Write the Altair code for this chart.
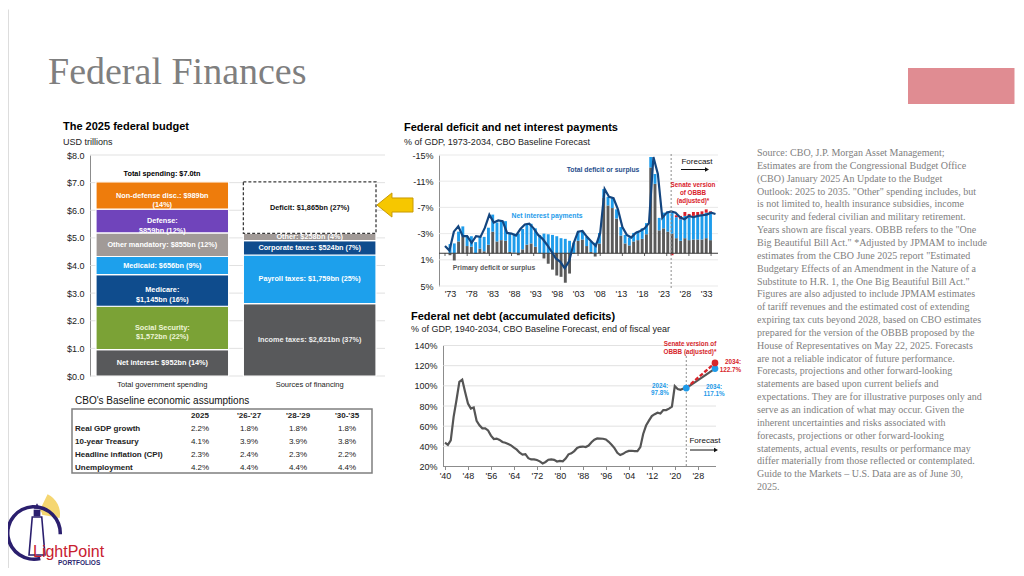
import altair as alt
import pandas as pd

W, H = 1008, 560
def X(v): return v - 8
def Y(v): return v - 8

SANS = "Liberation Sans"
SERIF = "Liberation Serif"

# ---------------- data ----------------
bars = ["Total government spending", "Sources of financing"]

spend_cats = ["Net interest", "Social Security", "Medicare", "Medicaid",
              "Other mandatory", "Defense", "Non-defense disc."]
spend_vals = [0.952, 1.572, 1.145, 0.656, 0.855, 0.859, 0.989]
spend_labels = ["Net interest: $952bn (14%)", "Social Security:\n$1,572bn (22%)",
                "Medicare:\n$1,145bn (16%)", "Medicaid: $656bn (9%)",
                "Other mandatory: $855bn (12%)", "Defense:\n$859bn (12%)",
                "Non-defense disc.: $989bn\n(14%)"]
spend_colors = ["#58595B", "#7BA236", "#0F4C8D", "#1DA0EC", "#A19A97", "#7044BB", "#EE7C0C"]
spend_text = ["#FFFFFF", "#EEF5D8", "#FFFFFF", "#FFFFFF", "#FFFFFF", "#FFFFFF", "#FFFFFF"]

fin_cats = ["Income taxes", "Payroll taxes", "Corporate taxes", "Other", "Deficit"]
fin_vals = [2.621, 1.759, 0.524, 0.258, 1.865]
fin_labels = ["Income taxes: $2,621bn (37%)", "Payroll taxes: $1,759bn (25%)",
              "Corporate taxes: $524bn (7%)", "Other: $258bn (4%)", "Deficit: $1,865bn (27%)"]
fin_colors = ["#58595B", "#1DA0EC", "#0F4C8D", "#A19A97", "#FFFFFF"]
fin_text = ["#EDEDED", "#FFFFFF", "#FFFFFF", "#FFFFFF", "#111111"]

def_years = list(range(1973, 2035))
def_total = [-1.1, -0.4, -3.3, -4.1, -2.6, -2.6, -1.6, -2.6, -2.5, -3.9,
             -5.9, -4.7, -5.0, -4.9, -3.1, -3.0, -2.7, -3.7, -4.4, -4.5,
             -3.8, -2.8, -2.2, -1.3, -0.3, 0.8, 1.3, 2.3, 1.2, -1.5,
             -3.3, -3.4, -2.5, -1.8, -1.1, -3.1, -9.8, -8.6, -8.4, -6.7,
             -4.0, -2.8, -2.4, -3.1, -3.4, -3.8, -4.6, -14.7, -12.1, -5.4,
             -6.2, -6.4, -6.2, -5.5, -5.2, -5.7, -5.5, -5.7, -5.8, -5.9,
             -6.2, -6.0]
def_interest = [-1.4, -1.5, -1.5, -1.5, -1.5, -1.6, -1.7, -1.9, -2.2, -2.6,
                -2.6, -2.9, -3.0, -3.0, -2.9, -2.9, -3.0, -3.1, -3.1, -3.0,
                -2.8, -2.8, -3.0, -2.9, -2.8, -2.6, -2.3, -2.2, -1.9, -1.6,
                -1.4, -1.3, -1.4, -1.6, -1.6, -1.6, -1.3, -1.3, -1.5, -1.4,
                -1.3, -1.3, -1.2, -1.3, -1.4, -1.6, -1.7, -1.6, -1.5, -1.9,
                -2.4, -3.1, -3.2, -3.2, -3.3, -3.4, -3.5, -3.6, -3.7, -3.8,
                -3.9, -4.0]
def_primary = [0.3, 1.1, -1.8, -2.6, -1.1, -1.0, 0.1, -0.7, -0.3, -1.3,
               -3.3, -1.8, -2.0, -1.9, -0.2, -0.1, 0.3, -0.6, -1.3, -1.5,
               -1.0, 0.0, 0.8, 1.6, 2.5, 3.4, 3.6, 4.5, 3.1, 0.1,
               -1.9, -2.1, -1.1, -0.2, 0.5, -1.5, -8.5, -7.3, -6.9, -5.3,
               -2.7, -1.5, -1.2, -1.8, -2.0, -2.2, -2.9, -13.1, -10.6, -3.5,
               -3.8, -3.3, -3.0, -2.3, -1.9, -2.3, -2.0, -2.1, -2.1, -2.1,
               -2.3, -2.0]
senate_years = list(range(2025, 2035))
senate_adj = [0.3, -0.3, -0.5, -0.6, -0.5, -0.6, -0.5, -0.5, -0.5, -0.4]

debt_years = list(range(1940, 2025))
debt_vals = [43.6, 41.5, 45.9, 69.2, 86.0, 103.9, 106.1, 93.9, 82.4, 77.4,
             78.5, 65.4, 60.9, 57.9, 57.9, 55.7, 50.6, 47.2, 47.7, 46.4,
             44.3, 43.5, 42.3, 41.0, 38.7, 36.7, 33.7, 31.8, 32.2, 28.3,
             27.0, 27.1, 26.4, 25.1, 23.1, 24.5, 26.7, 27.1, 26.6, 24.9,
             25.5, 25.2, 27.9, 32.1, 33.1, 35.3, 38.4, 39.5, 39.8, 39.3,
             40.8, 44.0, 46.6, 47.8, 47.7, 47.5, 46.8, 44.5, 41.6, 38.2,
             33.6, 31.4, 32.5, 34.5, 35.5, 35.6, 35.3, 35.2, 39.2, 52.3,
             60.6, 65.5, 70.0, 71.9, 73.4, 72.5, 76.0, 76.0, 77.4, 79.4,
             99.8, 96.9, 96.0, 97.3, 97.8]
fc_years = [2024, 2034]
fc_base = [97.8, 117.1]
fc_senate = [97.8, 122.7]

tbl_rows = ["Real GDP growth", "10-year Treasury", "Headline inflation (CPI)", "Unemployment"]
tbl_cols = ["2025", "'26-'27", "'28-'29", "'30-'35"]
tbl_vals = [[2.2, 1.8, 1.8, 1.8],
            [4.1, 3.9, 3.9, 3.8],
            [2.3, 2.4, 2.3, 2.2],
            [4.2, 4.4, 4.4, 4.4]]

note_lines = [
    "Source: CBO, J.P. Morgan Asset Management;",
    "Estimates are from the Congressional Budget Office",
    "(CBO) January 2025 An Update to the Budget",
    "Outlook: 2025 to 2035. \"Other\" spending includes, but",
    "is not limited to, health insurance subsidies, income",
    "security and federal civilian and military retirement.",
    "Years shown are fiscal years. OBBB refers to the \"One",
    "Big Beautiful Bill Act.\" *Adjusted by JPMAM to include",
    "estimates from the CBO June 2025 report \"Estimated",
    "Budgetary Effects of an Amendment in the Nature of a",
    "Substitute to H.R. 1, the One Big Beautiful Bill Act.\"",
    "Figures are also adjusted to include JPMAM estimates",
    "of tariff revenues and the estimated cost of extending",
    "expiring tax cuts beyond 2028, based on CBO estimates",
    "prepared for the version of the OBBB proposed by the",
    "House of Representatives on May 22, 2025. Forecasts",
    "are not a reliable indicator of future performance.",
    "Forecasts, projections and other forward-looking",
    "statements are based upon current beliefs and",
    "expectations. They are for illustrative purposes only and",
    "serve as an indication of what may occur. Given the",
    "inherent uncertainties and risks associated with",
    "forecasts, projections or other forward-looking",
    "statements, actual events, results or performance may",
    "differ materially from those reflected or contemplated.",
    "Guide to the Markets \u2013 U.S. Data are as of June 30,",
    "2025.",
]

# ---------------- helpers ----------------
ONE = pd.DataFrame({"t": [""]})
layers = []

def txt(s, x, y, size=8, color="#000000", weight="normal", align="left",
        font=SANS, baseline="middle", lh=None):
    kw = dict(font=font, fontSize=size, color=color, fontWeight=weight,
              align=align, baseline=baseline)
    if "\n" in s:
        kw["lineBreak"] = "\n"
        kw["lineHeight"] = lh if lh else size * 1.2
    return alt.Chart(pd.DataFrame({"t": [s]})).mark_text(**kw).encode(
        text="t:N", x=alt.value(x), y=alt.value(y))

def hrule(x1, x2, y, color="#000", w=1, dash=None):
    kw = dict(color=color, strokeWidth=w)
    if dash:
        kw["strokeDash"] = dash
    return alt.Chart(ONE).mark_rule(**kw).encode(
        x=alt.value(x1), x2=alt.value(x2), y=alt.value(y))

# ---------------- page title ----------------
layers.append(txt("Federal Finances", X(48), Y(84), size=38, color="#7F7F7F",
                  font=SERIF, baseline="alphabetic"))
layers.append(alt.Chart(ONE).mark_rect(color="#E08C92").encode(
    x=alt.value(X(908)), x2=alt.value(W), y=alt.value(Y(68)), y2=alt.value(Y(104))))

# ---------------- budget panel ----------------
bud = pd.DataFrame({
    "bar": [bars[0]] * len(spend_cats) + [bars[1]] * len(fin_cats),
    "cat": spend_cats + fin_cats,
    "value": spend_vals + fin_vals,
    "order": list(range(len(spend_cats))) + list(range(len(fin_cats))),
    "label": spend_labels + fin_labels,
    "fill": spend_colors + fin_colors,
    "tcolor": spend_text + fin_text,
    "kind": ["solid"] * (len(spend_cats) + len(fin_cats) - 1) + ["deficit"],
})
bx = alt.Scale(type="band", domain=bars, range=[X(96), X(376)], paddingInner=0.1, paddingOuter=0)
by = alt.Scale(domain=[0, 8], range=[Y(376), Y(155)], nice=False, zero=False)

layers.append(alt.Chart(pd.DataFrame({"v": list(range(0, 9))})).mark_rule(
    color="#D9D9D9", strokeWidth=0.8).encode(
    y=alt.Y("v:Q", scale=by, axis=None), x=alt.value(X(90)), x2=alt.value(X(385))))

bbase = alt.Chart(bud).transform_stack(
    stack="value", groupby=["bar"], sort=[{"field": "order", "order": "ascending"}],
    as_=["y0", "y1"]).transform_calculate(mid="(datum.y0 + datum.y1) / 2")

layers.append(bbase.transform_filter("datum.kind == 'solid'").mark_bar(
    stroke="white", strokeWidth=1.2).encode(
    x=alt.X("bar:N", scale=bx, sort=bars,
            axis=alt.Axis(orient="bottom", offset=Y(376) - H, title=None, ticks=False,
                          domain=False, labelAngle=0, labelFont=SANS, labelFontSize=7.5,
                          labelColor="#222222", labelPadding=4, labelLimit=200)),
    y=alt.Y("y0:Q", scale=by,
            axis=alt.Axis(orient="left", offset=-X(90), title=None, ticks=False,
                          grid=False, domain=True, domainColor="#8C8C8C",
                          values=list(range(0, 9)),
                          labelExpr="'$' + format(datum.value, '.1f')",
                          labelFont=SANS, labelFontSize=9, labelColor="#222222",
                          labelPadding=6)),
    y2="y1:Q",
    color=alt.Color("fill:N", scale=None)))

layers.append(bbase.transform_filter("datum.kind == 'deficit'").mark_bar(
    fill="white", stroke="#3A3A3A", strokeDash=[3, 2], strokeWidth=1.3).encode(
    x=alt.X("bar:N", scale=bx, sort=bars, axis=None),
    y=alt.Y("y0:Q", scale=by, axis=None), y2="y1:Q"))

layers.append(bbase.mark_text(font=SANS, fontSize=7.3, fontWeight="bold",
                              lineBreak="\n", lineHeight=9.5, baseline="middle").encode(
    x=alt.X("bar:N", scale=bx, sort=bars, axis=None),
    y=alt.Y("mid:Q", scale=by, axis=None),
    text="label:N",
    color=alt.Color("tcolor:N", scale=None)))

layers.append(txt("The 2025 federal budget", X(63), Y(127), size=11, weight="bold"))
layers.append(txt("USD trillions", X(63), Y(142), size=9, color="#222222"))
layers.append(txt("Total spending: $7.0tn", X(162), Y(174), size=7.3, weight="bold", align="center"))

# yellow arrow
arrow_path = "M -1 0 L -0.17 -0.67 L -0.17 -0.39 L 1 -0.39 L 1 0.39 L -0.17 0.39 L -0.17 0.67 Z"
layers.append(alt.Chart(ONE).mark_point(shape=arrow_path, size=1296, filled=True,
                                        fill="#F6C700", stroke="#C99A00", strokeWidth=1,
                                        opacity=1).encode(
    x=alt.value(X(395)), y=alt.value(Y(205))))

# ---------------- table ----------------
layers.append(txt("CBO's Baseline economic assumptions", X(75), Y(401), size=10, color="#111111"))
layers.append(alt.Chart(ONE).mark_rect(fill="white", fillOpacity=0, stroke="#7F7F7F",
                                       strokeWidth=1.5).encode(
    x=alt.value(X(72)), x2=alt.value(X(372)), y=alt.value(Y(409)), y2=alt.value(Y(473))))
ty = alt.Scale(type="point", domain=["hdr"] + tbl_rows, range=[Y(416), Y(468)], padding=0)
tx = alt.Scale(type="point", domain=tbl_cols, range=[X(200), X(347)], padding=0)
tcells = pd.DataFrame([{"row": r, "col": c, "v": tbl_vals[i][j]}
                       for i, r in enumerate(tbl_rows) for j, c in enumerate(tbl_cols)])
layers.append(alt.Chart(tcells).transform_calculate(
    lbl="format(datum.v, '.1f') + '%'").mark_text(
    font=SANS, fontSize=8, color="#222222", align="center", baseline="middle").encode(
    x=alt.X("col:N", scale=tx, axis=None), y=alt.Y("row:N", scale=ty, axis=None), text="lbl:N"))
layers.append(alt.Chart(pd.DataFrame({"col": tbl_cols, "row": ["hdr"] * 4})).mark_text(
    font=SANS, fontSize=8, fontWeight="bold", color="#222222", align="center",
    baseline="middle").encode(
    x=alt.X("col:N", scale=tx, axis=None), y=alt.Y("row:N", scale=ty, axis=None), text="col:N"))
layers.append(alt.Chart(pd.DataFrame({"row": tbl_rows})).mark_text(
    font=SANS, fontSize=8, fontWeight="bold", color="#222222", align="left",
    baseline="middle").encode(
    x=alt.value(X(75)), y=alt.Y("row:N", scale=ty, axis=None), text="row:N"))

# ---------------- deficit panel ----------------
dx = alt.Scale(domain=[1973, 2034], range=[X(445), X(715.5)], nice=False, zero=False)
dy = alt.Scale(domain=[-15, 5], range=[Y(155), Y(286)], nice=False, zero=False)

layers.append(txt("Federal deficit and net interest payments", X(404), Y(128), size=11, weight="bold"))
layers.append(txt("% of GDP, 1973-2034, CBO Baseline Forecast", X(404), Y(142), size=9, color="#222222"))

layers.append(alt.Chart(pd.DataFrame({"v": [-15, -11, -7, -3, 1, 5]})).mark_rule(
    color="#E3E3E3", strokeWidth=0.8).encode(
    y=alt.Y("v:Q", scale=dy, axis=None), x=alt.value(X(439)), x2=alt.value(X(718))))

dlong = pd.DataFrame(
    [{"year": y, "comp": "Primary deficit or surplus", "val": v, "o": 0}
     for y, v in zip(def_years, def_primary)] +
    [{"year": y, "comp": "Net interest payments", "val": v, "o": 1}
     for y, v in zip(def_years, def_interest)] +
    [{"year": y, "comp": "Senate version of OBBB (adjusted)", "val": v, "o": 2}
     for y, v in zip(senate_years, senate_adj)])
layers.append(alt.Chart(dlong).mark_bar(size=2.9).encode(
    x=alt.X("year:Q", scale=dx,
            axis=alt.Axis(orient="bottom", offset=Y(286) - H, title=None, ticks=False,
                          domain=False, grid=False, values=list(range(1973, 2034, 5)),
                          labelExpr="\"'\" + substring(toString(datum.value), 2, 4)",
                          labelFont=SANS, labelFontSize=9, labelColor="#222222",
                          labelPadding=3, labelFlush=False, labelOverlap=False)),
    y=alt.Y("val:Q", stack="zero", scale=dy,
            axis=alt.Axis(orient="left", offset=-X(439), title=None, ticks=False,
                          grid=False, domain=True, domainColor="#8C8C8C",
                          values=[-15, -11, -7, -3, 1, 5],
                          labelExpr="datum.value + '%'",
                          labelFont=SANS, labelFontSize=9, labelColor="#222222",
                          labelPadding=6)),
    color=alt.Color("comp:N", legend=None, scale=alt.Scale(
        domain=["Primary deficit or surplus", "Net interest payments",
                "Senate version of OBBB (adjusted)"],
        range=["#5A5A5A", "#1E9CEB", "#D9202A"])),
    order=alt.Order("o:Q")))

layers.append(alt.Chart(pd.DataFrame({"v": [0]})).mark_rule(
    color="#3A3A3A", strokeWidth=1).encode(
    y=alt.Y("v:Q", scale=dy, axis=None), x=alt.value(X(439)), x2=alt.value(X(718))))
layers.append(alt.Chart(pd.DataFrame({"year": list(range(1973, 2034, 5))})).mark_rule(
    color="#3A3A3A", strokeWidth=0.8).encode(
    x=alt.X("year:Q", scale=dx, axis=None), y=alt.value(Y(253)), y2=alt.value(Y(256))))

layers.append(alt.Chart(pd.DataFrame({"year": def_years, "total": def_total})).mark_line(
    color="#13457F", strokeWidth=2.2).encode(
    x=alt.X("year:Q", scale=dx, axis=None), y=alt.Y("total:Q", scale=dy, axis=None)))

layers.append(alt.Chart(pd.DataFrame({"year": [2024]})).mark_rule(
    color="#8C8C8C", strokeWidth=1, strokeDash=[2, 2]).encode(
    x=alt.X("year:Q", scale=dx, axis=None), y=alt.value(Y(154)), y2=alt.value(Y(288))))

layers.append(txt("Total deficit or surplus", X(603), Y(170), size=6.8, weight="bold",
                  color="#1F4E8C", align="center"))
layers.append(txt("Net interest payments", X(547), Y(216), size=6.8, weight="bold",
                  color="#1E9CEB", align="center"))
layers.append(txt("Primary deficit or surplus", X(494), Y(268), size=6.8, weight="bold",
                  color="#5A5A5A", align="center"))
layers.append(txt("Forecast", X(697), Y(162), size=8, color="#111111", align="center"))
layers.append(hrule(X(681), X(705), Y(169.5), color="#111111", w=1))
layers.append(alt.Chart(ONE).mark_point(shape="triangle-right", size=22, filled=True,
                                        color="#111111", opacity=1).encode(
    x=alt.value(X(707)), y=alt.value(Y(169.5))))
layers.append(txt("Senate version\nof OBBB\n(adjusted)*", X(693), Y(185), size=6.3,
                  weight="bold", color="#D9202A", align="center", lh=8))

# ---------------- net debt panel ----------------
nx = alt.Scale(domain=[1940, 2034], range=[X(445), X(715)], nice=False, zero=False)
ny = alt.Scale(domain=[20, 140], range=[Y(466.5), Y(345.5)], nice=False, zero=False)

layers.append(txt("Federal net debt (accumulated deficits)", X(411), Y(317), size=11, weight="bold"))
layers.append(txt("% of GDP, 1940-2034, CBO Baseline Forecast, end of fiscal year", X(411), Y(329),
                  size=9, color="#222222"))

layers.append(alt.Chart(pd.DataFrame({"v": [40, 60, 80, 100, 120, 140]})).mark_rule(
    color="#DADADA", strokeWidth=0.8).encode(
    y=alt.Y("v:Q", scale=ny, axis=None), x=alt.value(X(443)), x2=alt.value(X(716))))
layers.append(alt.Chart(pd.DataFrame({"v": [20]})).mark_rule(
    color="#8C8C8C", strokeWidth=1).encode(
    y=alt.Y("v:Q", scale=ny, axis=None), x=alt.value(X(443)), x2=alt.value(X(716))))

layers.append(alt.Chart(pd.DataFrame({"year": debt_years, "debt": debt_vals})).mark_line(
    color="#555555", strokeWidth=2.2).encode(
    x=alt.X("year:Q", scale=nx,
            axis=alt.Axis(orient="bottom", offset=Y(466.5) - H, title=None, ticks=True,
                          tickSize=3, tickColor="#8C8C8C", domain=False, grid=False,
                          values=list(range(1940, 2030, 8)),
                          labelExpr="\"'\" + substring(toString(datum.value), 2, 4)",
                          labelFont=SANS, labelFontSize=9, labelColor="#222222",
                          labelPadding=2, labelFlush=False, labelOverlap=False)),
    y=alt.Y("debt:Q", scale=ny,
            axis=alt.Axis(orient="left", offset=-X(443), title=None, ticks=False,
                          grid=False, domain=True, domainColor="#8C8C8C",
                          values=[20, 40, 60, 80, 100, 120, 140],
                          labelExpr="datum.value + '%'",
                          labelFont=SANS, labelFontSize=9, labelColor="#222222",
                          labelPadding=6))))

layers.append(alt.Chart(pd.DataFrame({"year": fc_years, "debt": fc_base})).mark_line(
    color="#555555", strokeWidth=2.2).encode(
    x=alt.X("year:Q", scale=nx, axis=None), y=alt.Y("debt:Q", scale=ny, axis=None)))
layers.append(alt.Chart(pd.DataFrame({"year": fc_years, "debt": fc_senate})).mark_line(
    color="#D7262B", strokeWidth=2.4, strokeDash=[4, 2]).encode(
    x=alt.X("year:Q", scale=nx, axis=None), y=alt.Y("debt:Q", scale=ny, axis=None)))

layers.append(alt.Chart(pd.DataFrame({"year": [2024]})).mark_rule(
    color="#8C8C8C", strokeWidth=1, strokeDash=[2, 2]).encode(
    x=alt.X("year:Q", scale=nx, axis=None), y=alt.value(Y(352)), y2=alt.value(Y(468))))

dots = pd.DataFrame({"year": [2024, 2034, 2034], "debt": [97.8, 117.1, 122.7],
                     "c": ["#1E9BE9", "#1E9BE9", "#D7262B"]})
layers.append(alt.Chart(dots).mark_circle(size=45, opacity=1).encode(
    x=alt.X("year:Q", scale=nx, axis=None), y=alt.Y("debt:Q", scale=ny, axis=None),
    color=alt.Color("c:N", scale=None)))

layers.append(txt("Senate version of\nOBBB (adjusted)*", X(690), Y(343.5), size=6.3,
                  weight="bold", color="#D7262B", align="center", lh=8.5))
layers.append(txt("2024:\n97.8%", X(660), Y(386), size=6.3, weight="bold",
                  color="#1E9BE9", align="center", lh=7))
layers.append(txt("2034:\n117.1%", X(714), Y(387), size=6.3, weight="bold",
                  color="#1E9BE9", align="center", lh=7))
layers.append(txt("2034:\n122.7%", X(741), Y(362), size=6.3, weight="bold",
                  color="#D7262B", align="right", lh=8))
layers.append(txt("Forecast", X(705), Y(441), size=8, color="#111111", align="center"))
layers.append(hrule(X(690), X(714), Y(450), color="#111111", w=1))
layers.append(alt.Chart(ONE).mark_point(shape="triangle-right", size=22, filled=True,
                                        color="#111111", opacity=1).encode(
    x=alt.value(X(716)), y=alt.value(Y(450))))

# ---------------- notes ----------------
note_df = pd.DataFrame({"i": list(range(len(note_lines))), "t": note_lines})
ns = alt.Scale(type="point", domain=list(range(len(note_lines))),
               range=[Y(153), Y(153 + (len(note_lines) - 1) * 12.85)], padding=0)
layers.append(alt.Chart(note_df).mark_text(font=SERIF, fontSize=10, color="#808080",
                                           align="left", baseline="middle").encode(
    x=alt.value(X(757)), y=alt.Y("i:O", scale=ns, axis=None), text="t:N"))

# ---------------- logo ----------------
layers.append(alt.Chart(ONE).mark_arc(radius=22, radius2=4, theta=0.45, theta2=1.75,
                                      color="#F4D162", opacity=0.9).encode(
    x=alt.value(X(38)), y=alt.value(Y(514))))
layers.append(alt.Chart(ONE).mark_arc(radius=28, radius2=24.5, theta=2.9, theta2=7.9,
                                      color="#2B1F6E").encode(
    x=alt.value(X(34)), y=alt.value(Y(533))))
tower = "M -0.25 -1 L 0.25 -1 L 0.42 1 L -0.42 1 Z"
layers.append(alt.Chart(ONE).mark_point(shape=tower, size=1444, filled=True, fill="white",
                                        stroke="#2B1F6E", strokeWidth=1.6, opacity=1).encode(
    x=alt.value(X(37)), y=alt.value(Y(536))))
layers.append(alt.Chart(ONE).mark_point(shape="square", size=45, filled=True,
                                        color="#2B1F6E", opacity=1).encode(
    x=alt.value(X(37)), y=alt.value(Y(513))))
layers.append(alt.Chart(ONE).mark_point(shape="triangle-up", size=40, filled=True,
                                        color="#2B1F6E", opacity=1).encode(
    x=alt.value(X(37)), y=alt.value(Y(506))))
layers.append(txt("LightPoint", X(33), Y(552), size=16, color="#C8202F"))
layers.append(txt("PORTFOLIOS", X(58), Y(563), size=6.5, weight="bold", color="#2B1F6E"))

# white edge cover (keeps the page frame clean)
layers.append(hrule(0, W, 0.5, color="#FFFFFF", w=2))
layers.append(alt.Chart(ONE).mark_rule(color="#FFFFFF", strokeWidth=2).encode(
    x=alt.value(W - 0.5), y=alt.value(0), y2=alt.value(H)))

chart = alt.layer(*layers).resolve_scale(
    x="independent", y="independent", color="independent"
).properties(
    width=W, height=H, padding=0, background="white",
    autosize=alt.AutoSizeParams(type="none")
).configure_view(stroke="transparent", strokeWidth=0).configure(font=SANS)

chart.save("out.html", embed_options={"renderer": "svg", "actions": False})
